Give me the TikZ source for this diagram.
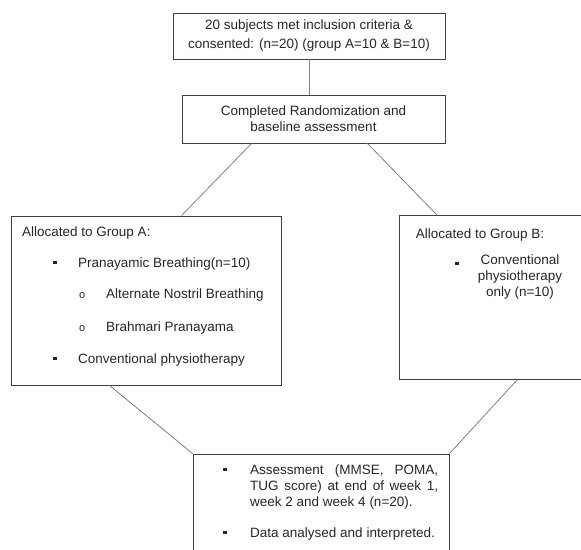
\documentclass[tikz,border=0pt]{standalone}
\usepackage{fontspec}
\setmainfont{Liberation Sans}
\usetikzlibrary{calc}

\newcommand{\sqbullet}{\rule[3pt]{3.4pt}{3.4pt}}

\begin{document}
\begin{tikzpicture}
    [x=1pt, y=-1pt,
    % Boxes of the flow chart
    box/.style={rectangle, draw=black!75, line width=0.9pt, inner sep=0pt, align=center,
        font=\fontsize{13.5}{16}\selectfont, text=black!85},
    % Plain text inside the boxes
    txt/.style={inner sep=0pt, anchor=base west, font=\fontsize{13.5}{16}\selectfont, text=black!85},
    % Connecting lines
    line/.style={draw=black!50, line width=0.8pt}]
    \clip (0,0) rectangle (581,549);
    % Enrolment
    \node [box, minimum width=272pt, minimum height=46pt, font=\fontsize{13.5}{19}\selectfont]
        (enrol) at (309,36) {20 subjects met inclusion criteria \&\\consented: (n=20) (group A=10 \& B=10)};
    % Randomization
    \node [box, minimum width=263pt, minimum height=48pt] (rand) at (313.5,119)
        {Completed Randomization and\\baseline assessment};
    % Group A
    \node [box, minimum width=270pt, minimum height=169pt] (grpA) at (146,300.5) {};
    \node [txt] (grpAtitle) at (22,236) {Allocated to Group A:};
    \node [txt] (a1b) at (53,267) {\sqbullet};
    \node [txt] (a1) at (78,267) {Pranayamic Breathing(n=10)};
    \node [txt] (a2b) at (79,298) {\fontsize{11}{12}\selectfont o};
    \node [txt] (a2) at (106,298) {Alternate Nostril Breathing};
    \node [txt] (a3b) at (79,331) {\fontsize{11}{12}\selectfont o};
    \node [txt] (a3) at (106,331) {Brahmari Pranayama};
    \node [txt] (a4b) at (53,363) {\sqbullet};
    \node [txt] (a4) at (78,363) {Conventional physiotherapy};
    % Group B
    \node [box, minimum width=190pt, minimum height=164pt] (grpB) at (494,297) {};
    \node [txt, anchor=base] (grpBtitle) at (480,238) {Allocated to Group B:};
    \node [txt] (b1b) at (455,268) {\sqbullet};
    \node [box, draw=none, anchor=north] (b1) at (520,254)
        {Conventional\\physiotherapy\\only (n=10)};
    % Follow up
    \node [box, minimum width=256pt, minimum height=111pt] (result) at (321,509.5) {};
    \node [txt] (r1b) at (223,474) {\sqbullet};
    \node [txt] (r1) at (250,474) {\makebox[188pt][s]{Assessment (MMSE, POMA,}};
    \node [txt] (r2) at (250,490) {\makebox[188pt][s]{TUG score) at end of week 1,}};
    \node [txt] (r3) at (250,506) {week 2 and week 4 (n=20).};
    \node [txt] (r4b) at (223,537) {\sqbullet};
    \node [txt] (r4) at (250,537) {Data analysed and interpreted.};
    % Connectors
    \draw [line] (enrol.south) -- (enrol.south |- rand.north);
    \draw [line] ($(rand.south west)+(70,0)$) -- ($(grpA.north west)+(171,0)$);
    \draw [line] ($(rand.south east)+(-78,0)$) -- ($(grpB.north west)+(38,0)$);
    \draw [line] ($(grpA.south west)+(99,0)$) -- (result.north west);
    \draw [line] ($(grpB.south west)+(119,0)$) -- (result.north east);
\end{tikzpicture}
\end{document}
